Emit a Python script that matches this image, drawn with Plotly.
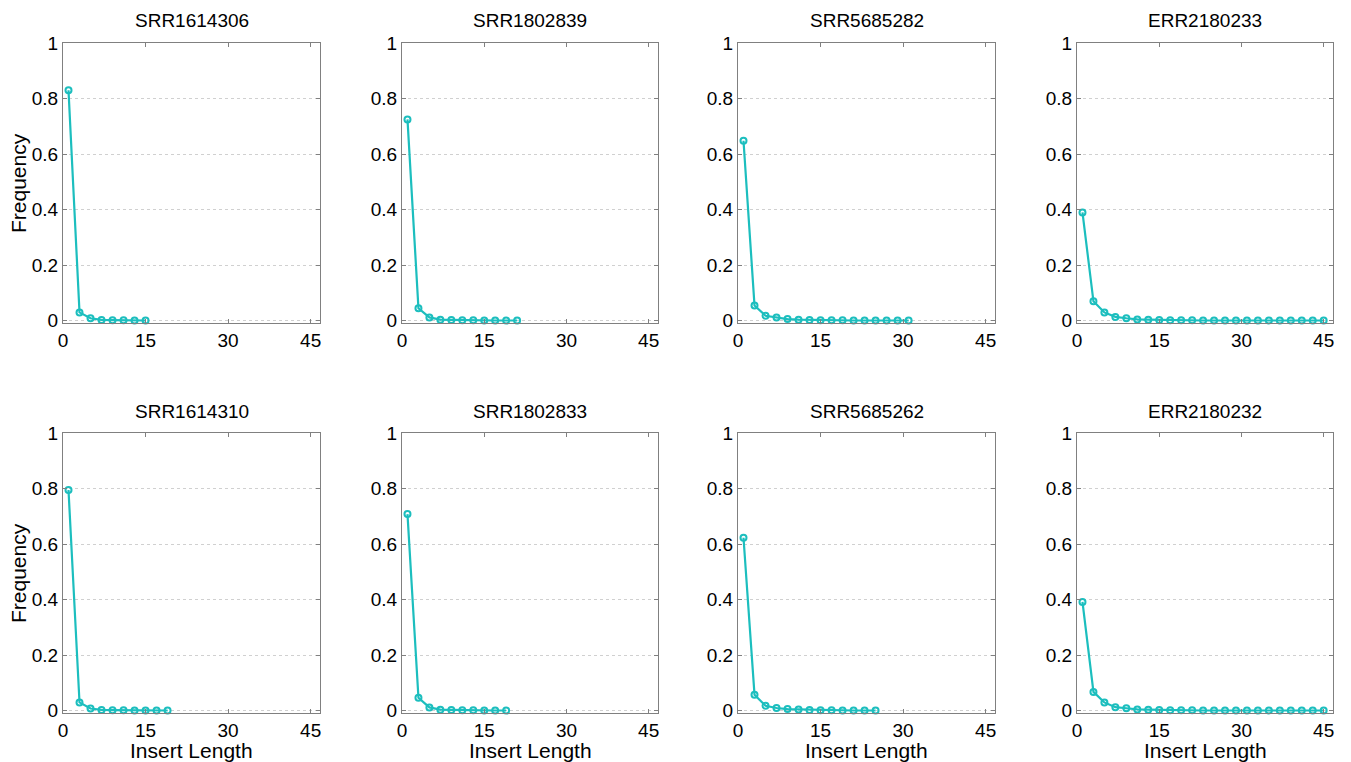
import plotly.graph_objects as go

titles = ["SRR1614306", "SRR1802839", "SRR5685282", "ERR2180233",
          "SRR1614310", "SRR1802833", "SRR5685262", "ERR2180232"]

# insert lengths are odd numbers 1, 3, 5, ...
x_p1 = [1, 3, 5, 7, 9, 11, 13, 15]
y_p1 = [0.83, 0.030, 0.009, 0.003, 0.002, 0.002, 0.001, 0.001]

x_p2 = [1, 3, 5, 7, 9, 11, 13, 15, 17, 19, 21]
y_p2 = [0.725, 0.045, 0.012, 0.004, 0.003, 0.002, 0.002, 0.001, 0.001, 0.001, 0.001]

x_p3 = [1, 3, 5, 7, 9, 11, 13, 15, 17, 19, 21, 23, 25, 27, 29, 31]
y_p3 = [0.648, 0.055, 0.018, 0.012, 0.006, 0.004, 0.003, 0.002, 0.002, 0.002,
        0.001, 0.001, 0.001, 0.001, 0.001, 0.001]

x_p4 = [1, 3, 5, 7, 9, 11, 13, 15, 17, 19, 21, 23, 25, 27, 29, 31, 33, 35, 37, 39, 41, 43, 45]
y_p4 = [0.39, 0.070, 0.030, 0.014, 0.009, 0.005, 0.004, 0.003, 0.002, 0.002,
        0.002, 0.001, 0.001, 0.001, 0.001, 0.001, 0.001, 0.001, 0.001, 0.001,
        0.001, 0.001, 0.001]

x_p5 = [1, 3, 5, 7, 9, 11, 13, 15, 17, 19]
y_p5 = [0.795, 0.030, 0.008, 0.003, 0.002, 0.002, 0.001, 0.001, 0.001, 0.001]

x_p6 = [1, 3, 5, 7, 9, 11, 13, 15, 17, 19]
y_p6 = [0.708, 0.047, 0.012, 0.004, 0.003, 0.002, 0.002, 0.001, 0.001, 0.001]

x_p7 = [1, 3, 5, 7, 9, 11, 13, 15, 17, 19, 21, 23, 25]
y_p7 = [0.623, 0.058, 0.018, 0.010, 0.006, 0.005, 0.003, 0.002, 0.002, 0.001,
        0.001, 0.001, 0.001]

x_p8 = [1, 3, 5, 7, 9, 11, 13, 15, 17, 19, 21, 23, 25, 27, 29, 31, 33, 35, 37, 39, 41, 43, 45]
y_p8 = [0.392, 0.068, 0.030, 0.013, 0.009, 0.005, 0.004, 0.003, 0.002, 0.002,
        0.002, 0.001, 0.001, 0.001, 0.001, 0.001, 0.001, 0.001, 0.001, 0.001,
        0.001, 0.001, 0.001]

xs = [x_p1, x_p2, x_p3, x_p4, x_p5, x_p6, x_p7, x_p8]
ys = [y_p1, y_p2, y_p3, y_p4, y_p5, y_p6, y_p7, y_p8]

x_ticks = [0, 15, 30, 45]
y_ticks = [0, 0.2, 0.4, 0.6, 0.8, 1]
y_ticktext = ["0", "0.2", "0.4", "0.6", "0.8", "1"]

W, H = 1351, 762
col_px = [(63, 320), (402, 658), (738, 995), (1077, 1333)]
row_px = [(43, 323), (433, 713)]

COLOR = "#1CBEBE"
FONT = "Liberation Sans, Arial, sans-serif"

fig = go.Figure()
annotations = []
for i in range(8):
    r, c = divmod(i, 4)
    n = i + 1
    xa = "x" if n == 1 else f"x{n}"
    ya = "y" if n == 1 else f"y{n}"
    fig.add_trace(go.Scatter(
        x=xs[i], y=ys[i], mode="lines+markers",
        line=dict(color=COLOR, width=2.2),
        marker=dict(symbol="circle-open", size=6, color=COLOR, line=dict(width=2, color=COLOR)),
        xaxis=xa, yaxis=ya, showlegend=False, cliponaxis=False))
    x0, x1 = col_px[c]
    t0, t1 = row_px[r]
    xdom = [x0 / W, x1 / W]
    ydom = [1 - t1 / H, 1 - t0 / H]
    common = dict(showline=True, linecolor="#808080", linewidth=1, mirror="ticks",
                  ticks="inside", ticklen=4, tickcolor="#808080", zeroline=False,
                  automargin=False,
                  tickfont=dict(family=FONT, size=19, color="black"))
    fig.layout[f"xaxis{'' if n == 1 else n}"] = dict(
        domain=xdom, anchor=ya, range=[0, 46.7], tickvals=x_ticks,
        showgrid=False, **common)
    fig.layout[f"yaxis{'' if n == 1 else n}"] = dict(
        domain=ydom, anchor=xa, range=[-0.008, 1], tickvals=y_ticks, ticktext=y_ticktext,
        showgrid=True, gridcolor="#d0d0d0", griddash="dot", gridwidth=1, **common)
    annotations.append(dict(text=titles[i], x=(x0 + x1) / 2 / W, y=1 - (t0 - 22) / H,
                            xref="paper", yref="paper", showarrow=False,
                            xanchor="center", yanchor="middle",
                            font=dict(family=FONT, size=19, color="black")))
    if r == 1:
        annotations.append(dict(text="Insert Length", x=(x0 + x1) / 2 / W, y=1 - 750 / H,
                                xref="paper", yref="paper", showarrow=False,
                                xanchor="center", yanchor="middle",
                                font=dict(family=FONT, size=21, color="black")))
    if c == 0:
        annotations.append(dict(text="Frequency", x=18 / W, y=1 - (t0 + t1) / 2 / H,
                                xref="paper", yref="paper", showarrow=False, textangle=-90,
                                xanchor="center", yanchor="middle",
                                font=dict(family=FONT, size=21, color="black")))

fig.update_layout(width=W, height=H, margin=dict(l=0, r=0, t=0, b=0, pad=0, autoexpand=False),
                  paper_bgcolor="white", plot_bgcolor="white",
                  annotations=annotations, font=dict(family=FONT))
fig.write_html(
    "out.html",
    config={"displayModeBar": False},
    post_script=(
        "document.documentElement.style.margin='0';"
        "document.body.style.margin='0';"
        "document.documentElement.style.overflow='hidden';"
        "document.body.style.overflow='hidden';"
    ),
)
